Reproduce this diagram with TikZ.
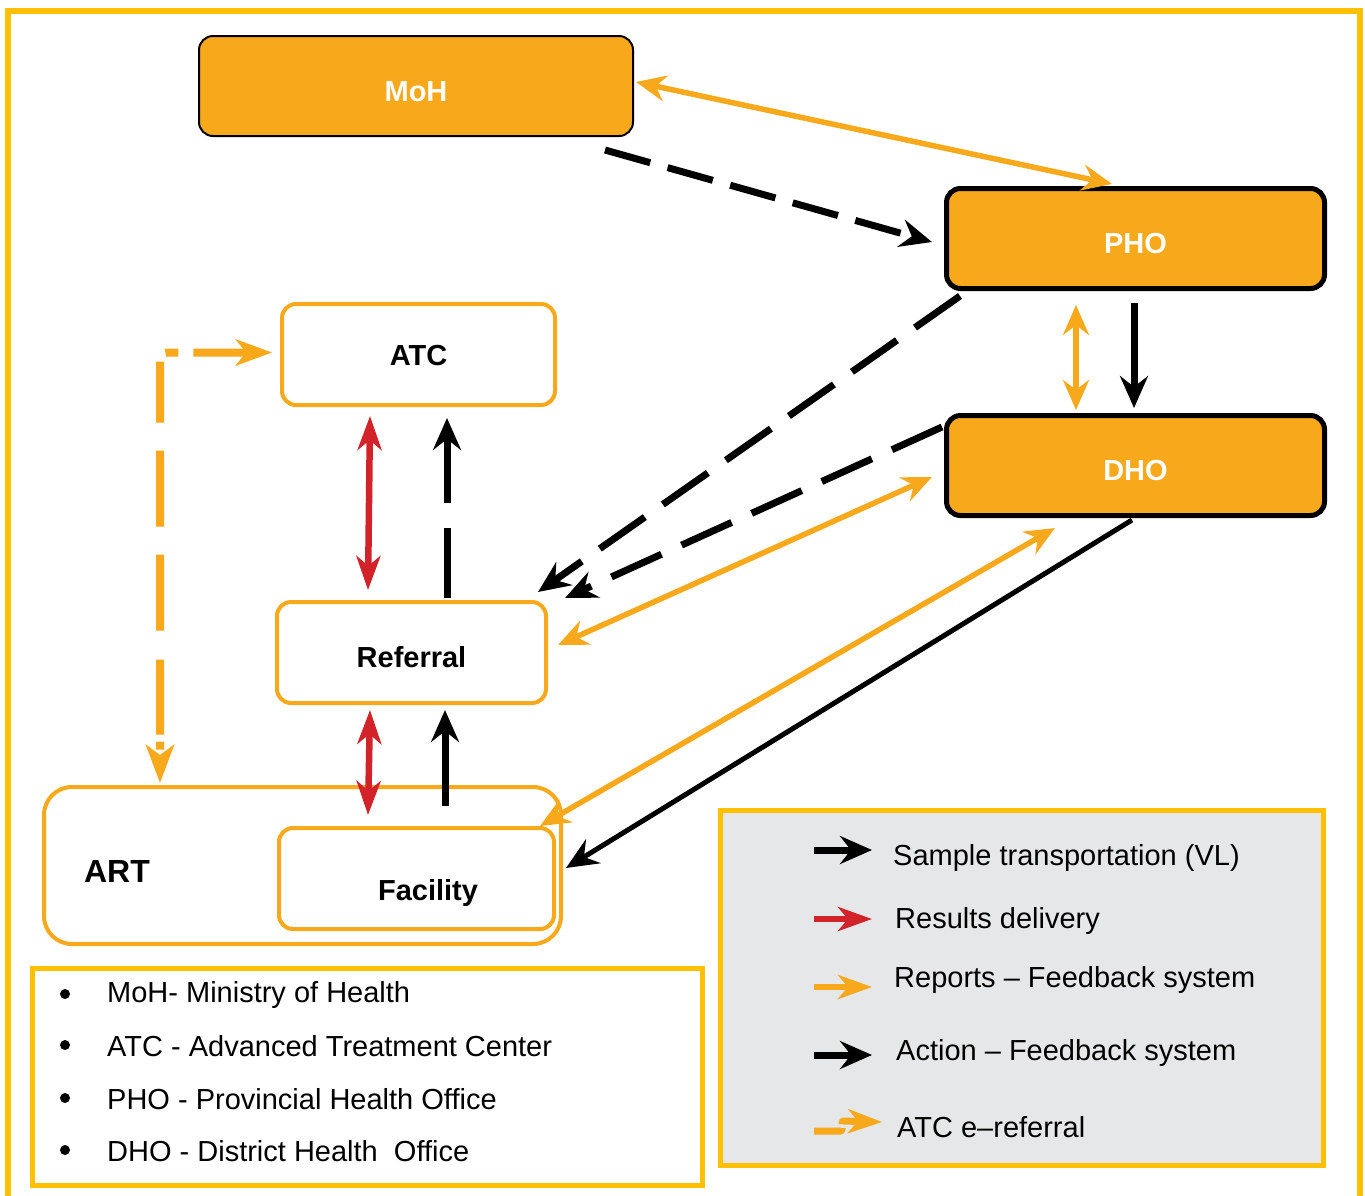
\documentclass[tikz,border=0pt]{standalone}
\usepackage{fontspec}
\setmainfont{Liberation Sans}
\usetikzlibrary{arrows.meta}
\definecolor{boxorange}{HTML}{F7A81B}
\definecolor{frameyellow}{HTML}{FFC000}
\definecolor{resultred}{HTML}{D2232A}
\definecolor{legendgray}{HTML}{E6E7E8}
\tikzset{
  boxfont/.style={font=\fontsize{29}{34}\selectfont\bfseries},
  headbox/.style={draw=black, fill=boxorange, rounded corners=14pt, text=white, boxfont, inner sep=0pt, text height=29pt, text depth=0pt},
  unitbox/.style={draw=boxorange, line width=4pt, fill=white, rounded corners=14pt, boxfont, inner sep=0pt, text height=21pt, text depth=0pt},
  legbox/.style={draw=frameyellow, line width=5pt, inner sep=0pt},
  legtext/.style={anchor=west, inner sep=0pt},
  orng/.style={boxorange, line width=5.5pt, arrows={Stealth[length=30pt,width=26pt,inset=10pt]-Stealth[length=30pt,width=26pt,inset=10pt]}},
  blk/.style={line width=7pt, arrows={-Stealth[length=32pt,width=28pt,inset=11pt]}},
  blkdash/.style={blk, dash pattern=on 55pt off 22pt},
  redarr/.style={resultred, line width=6.5pt, arrows={Stealth[length=34pt,width=24pt,inset=10pt]-Stealth[length=34pt,width=24pt,inset=10pt]}},
  eref/.style={boxorange, line width=8pt, rounded corners=8pt}
}
\begin{document}
\begin{tikzpicture}[x=1pt,y=-1pt,font=\fontsize{29}{34}\selectfont]
  \useasboundingbox (0,0) rectangle (1365,1195);
  \draw[frameyellow, line width=6pt] (8,11) rectangle (1360,1215);

  \node[headbox, line width=2pt, minimum width=434pt, minimum height=100pt, text height=31pt] (moh) at (416,86) {MoH};
  \node[headbox, line width=5pt, minimum width=378pt, minimum height=100pt] (pho) at (1135.5,238.5) {PHO};
  \node[headbox, line width=5pt, minimum width=378pt, minimum height=100pt] (dho) at (1135.5,465.5) {DHO};
  \node[unitbox, minimum width=273pt, minimum height=101pt] (atc) at (418.5,354.5) {ATC};
  \node[unitbox, minimum width=269pt, minimum height=101pt, text height=30pt] (ref) at (411.5,652.5) {Referral};
  \node[unitbox, rounded corners=28pt, minimum width=517pt, minimum height=157pt] (art) at (302.5,865.5) {};
  \node[font=\fontsize{32}{38}\selectfont\bfseries] (artlbl) at (117,871) {ART};
  \node[unitbox, minimum width=275pt, minimum height=101pt, text height=44pt] (fac) at (416.5,878.5) {\hspace*{23pt}Facility};

  \draw[orng] ([xshift=2pt,yshift=4pt]moh.east) -- ([xshift=-23.5pt,yshift=2pt]pho.north);
  \draw[blkdash, dash pattern=on 47pt off 18pt] ([xshift=-29pt,yshift=-13pt]moh.south east) -- ([xshift=-12pt,yshift=-3.5pt]pho.west);
  \draw[blkdash] ([xshift=16pt,yshift=-5pt]pho.south west) -- ([xshift=-10pt,yshift=8pt]ref.north east);
  \draw[blkdash] ([xshift=-2pt,yshift=-14pt]dho.north west) -- ([xshift=17pt,yshift=2pt]ref.north east);
  \draw[orng] ([xshift=-12pt,yshift=-11.5pt]dho.west) -- ([xshift=10pt,yshift=7.5pt]ref.east);
  \draw[orng] ([xshift=-59.5pt,yshift=-14pt]pho.south) -- ([xshift=-59.5pt,yshift=3pt]dho.north);
  \draw[blk] ([xshift=-1.5pt,yshift=-12pt]pho.south) -- ([xshift=-1.5pt,yshift=5pt]dho.north);
  \draw[orng] ([xshift=-80.5pt,yshift=-10pt]dho.south) -- ([xshift=-16pt]fac.north east);
  \draw[blk, line width=5pt] ([xshift=-3.5pt,yshift=-2pt]dho.south) -- ([xshift=10pt,yshift=10.5pt]fac.east);
  \draw[blkdash, dash pattern=on 70pt off 25pt] ([xshift=35.5pt,yshift=2pt]ref.north) -- ([xshift=28.5pt,yshift=-11pt]atc.south);
  \draw[redarr] ([xshift=-48.5pt,yshift=-9pt]atc.south) -- ([xshift=-43.5pt,yshift=10pt]ref.north);
  \draw[redarr] ([xshift=-41.5pt,yshift=-5pt]ref.south) -- ([xshift=-48.5pt,yshift=11pt]fac.north);
  \draw[blk] ([xshift=28.5pt,yshift=20pt]fac.north) -- ([xshift=33.5pt,yshift=-5pt]ref.south);
  \draw[eref, dash pattern=on 55pt off 15pt on 13pt off 11pt on 61pt off 28pt on 76pt off 28pt on 76pt off 29pt on 75pt off 7pt on 8pt off 20pt,
    arrows={Stealth[length=36pt,width=26pt,inset=10pt]-Stealth[length=38pt,width=28pt,inset=10pt]}]
    ([xshift=-8pt,yshift=2pt]atc.west) -| ([xshift=-142.5pt,yshift=2pt]art.north);

  \node[legbox, fill=white, minimum width=670pt, minimum height=217pt] (abbr) at (367.5,1077) {};
  \node[legtext] (ab1) at (107,995) {MoH- Ministry of Health};
  \node[legtext] (ab2) at (107,1046) {ATC - Advanced Treatment Center};
  \node[legtext] (ab3) at (107,1099) {PHO - Provincial Health Office};
  \node[legtext] (ab4) at (107,1151) {DHO - District Health\ \ Office};
  \foreach \i in {1,...,4}
    \fill ([xshift=-42pt,yshift=1pt]ab\i.west) circle (5pt);

  \node[legbox, fill=legendgray, minimum width=603pt, minimum height=355pt] (keys) at (1022,988) {};
  \node[legtext] (lg1) at (893,858) {Sample transportation (VL)};
  \node[legtext] (lg2) at (895,921) {Results delivery};
  \node[legtext] (lg3) at (894,980) {Reports -- Feedback system};
  \node[legtext] (lg4) at (896,1053) {Action -- Feedback system};
  \node[legtext] (lg5) at (897,1127) {ATC e--referral};
  \draw[blk] ([xshift=-79pt,yshift=8pt]lg1.west) -- ([xshift=-21pt,yshift=8pt]lg1.west);
  \draw[redarr, arrows={-Stealth[length=34pt,width=24pt,inset=10pt]}] ([xshift=-81pt,yshift=2pt]lg2.west) -- ([xshift=-23pt,yshift=2pt]lg2.west);
  \draw[orng, arrows={-Stealth[length=34pt,width=24pt,inset=10pt]}] ([xshift=-80pt,yshift=-7pt]lg3.west) -- ([xshift=-22pt,yshift=-7pt]lg3.west);
  \draw[blk] ([xshift=-82pt,yshift=-2pt]lg4.west) -- ([xshift=-24pt,yshift=-2pt]lg4.west);
  \draw[eref, line width=7pt, dash pattern=on 30pt off 4pt, rounded corners=2pt, arrows={-Stealth[length=34pt,width=24pt,inset=10pt]}]
    ([xshift=-83pt,yshift=-4pt]lg5.west) -- ++(28,0) -- ++(0,-10) -- ([xshift=-15pt,yshift=5pt]lg5.west);
\end{tikzpicture}
\end{document}
